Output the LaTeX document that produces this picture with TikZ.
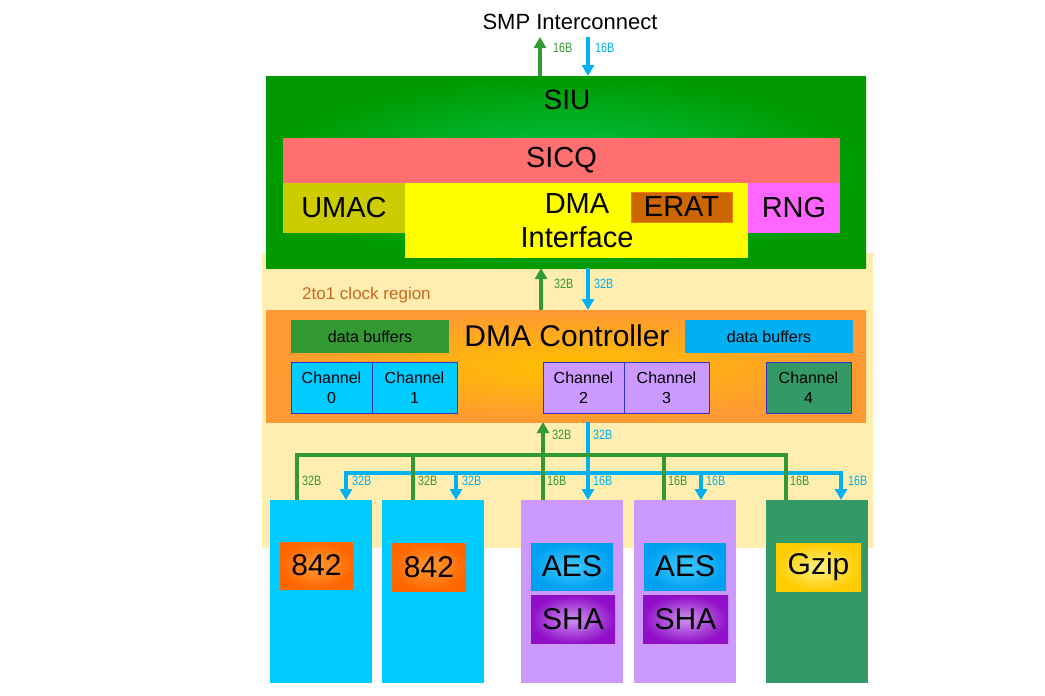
\documentclass[tikz,border=0pt]{standalone}
\usepackage{fontspec}
\setmainfont{Liberation Sans}
\newfontfamily\lblfont[FakeStretch=0.8]{Liberation Sans}
\usetikzlibrary{arrows.meta}
\definecolor{siuO}{HTML}{009A00}
\definecolor{siuI}{HTML}{00C850}
\definecolor{sicq}{HTML}{FF6F6F}
\definecolor{umac}{HTML}{CCCC00}
\definecolor{dmai}{HTML}{FFFF00}
\definecolor{erat}{HTML}{CC6600}
\definecolor{rng}{HTML}{FF66FF}
\definecolor{clk}{HTML}{FFEEB0}
\definecolor{clktxt}{HTML}{CC6622}
\definecolor{dmacO}{HTML}{FF9933}
\definecolor{dmacI}{HTML}{FFC000}
\definecolor{gbuf}{HTML}{339933}
\definecolor{bbuf}{HTML}{00B0F0}
\definecolor{cyanb}{HTML}{00CCFF}
\definecolor{lav}{HTML}{CC99FF}
\definecolor{dgreen}{HTML}{339966}
\definecolor{chborder}{HTML}{3333CC}
\definecolor{garr}{HTML}{339933}
\definecolor{barr}{HTML}{00B0F0}
\definecolor{oO}{HTML}{FF6600}
\definecolor{oI}{HTML}{FF9A30}
\definecolor{aO}{HTML}{00A0F0}
\definecolor{aI}{HTML}{40C8FF}
\definecolor{sO}{HTML}{9010C8}
\definecolor{sI}{HTML}{D090F0}
\definecolor{gzO}{HTML}{FFCC00}
\definecolor{gzI}{HTML}{FFF080}
\tikzset{
  box/.style={rectangle, inner sep=0pt, outer sep=0pt, draw=none},
  bigtxt/.style={font=\fontsize{29}{34}\selectfont, inner sep=0pt},
  chan/.style={box, draw=chborder, line width=0.8pt, minimum height=51pt, align=center, font=\fontsize{16}{20}\selectfont},
  buf/.style={box, minimum height=33pt, font=\fontsize{16}{20}\selectfont},
  blk/.style={box, minimum width=102pt, minimum height=183pt},
  inner/.style={box, minimum height=47pt, font=\fontsize{30}{34}\selectfont},
  garrow/.style={draw=garr, line width=4pt, -{Triangle[width=12pt,length=11pt]}},
  barrow/.style={draw=barr, line width=4pt, -{Triangle[width=12pt,length=11pt]}},
  gline/.style={draw=garr, line width=3.6pt, line join=miter},
  bline/.style={draw=barr, line width=3.6pt, line cap=rect},
  glbl/.style={text=garr, font=\lblfont\fontsize{13.5}{16}\selectfont, inner sep=0pt, anchor=west},
  blbl/.style={text=barr, font=\lblfont\fontsize{13.5}{16}\selectfont, inner sep=0pt, anchor=west},
}
\begin{document}
\begin{tikzpicture}[x=1pt,y=-1pt]
\useasboundingbox (0,0) rectangle (1045,696);
% clock region
\node[box, fill=clk, minimum width=611pt, minimum height=295pt] (clk) at (567.5,400.5) {};
\node[anchor=west, inner sep=0pt, text=clktxt, font=\fontsize{17}{20}\selectfont] (clklbl) at (302,295) {2to1 clock region};
% SIU
\node[box, inner color=siuI, outer color=siuO, minimum width=600pt, minimum height=192pt] (siu) at (566,172) {};
\node[font=\fontsize{28}{32}\selectfont, inner sep=0pt] (siulbl) at (567,100) {SIU};
\node[box, fill=sicq, minimum width=557pt, minimum height=45pt, bigtxt] (sicq) at (561.5,160.5) {SICQ};
\node[box, fill=umac, minimum width=122pt, minimum height=50pt, bigtxt] (umac) at (344,208) {UMAC};
\node[box, fill=dmai, minimum width=343pt, minimum height=75pt] (dmai) at (576.5,220.5) {};
\node[bigtxt, align=center] (dmailbl) at (577,221) {DMA\\Interface};
\node[box, fill=erat, draw=orange!80!erat, line width=0.6pt, minimum width=101pt, minimum height=30pt, bigtxt] (erat) at (681.5,207) {ERAT};
\node[box, fill=rng, minimum width=92pt, minimum height=50pt, bigtxt] (rng) at (794,208) {RNG};
% DMA controller
\node[box, inner color=dmacI, outer color=dmacO, minimum width=600pt, minimum height=112pt] (dmac) at (566,366) {};
\node[font=\fontsize{30}{34}\selectfont, inner sep=0pt] (dmaclbl) at (567,336) {DMA Controller};
\node[buf, fill=gbuf, minimum width=158pt] (bufg) at (370,336.5) {data buffers};
\node[buf, fill=bbuf, minimum width=168pt] (bufb) at (769,336.5) {data buffers};
\node[chan, fill=cyanb, minimum width=81pt] (ch0) at (331.5,387.5) {Channel\\0};
\node[chan, fill=cyanb, minimum width=85pt] (ch1) at (414.5,387.5) {Channel\\1};
\node[chan, fill=lav, minimum width=81pt] (ch2) at (583.5,387.5) {Channel\\2};
\node[chan, fill=lav, minimum width=85pt] (ch3) at (666.5,387.5) {Channel\\3};
\node[chan, fill=dgreen, minimum width=85pt] (ch4) at (808.5,387.5) {Channel\\4};
% bottom blocks
\node[blk, fill=cyanb] (b1) at (321,591.5) {};
\node[blk, fill=cyanb] (b2) at (433,591.5) {};
\node[blk, fill=lav] (b3) at (572,591.5) {};
\node[blk, fill=lav] (b4) at (684.5,591.5) {};
\node[blk, fill=dgreen] (b5) at (816.5,591.5) {};
\node[inner, inner color=oI, outer color=oO, minimum width=73pt] (c842a) at (316.5,565.5) {842};
\node[inner, inner color=oI, outer color=oO, minimum width=74pt, minimum height=48pt] (c842b) at (429,567) {842};
\node[inner, inner color=aI, outer color=aO, minimum width=82pt] (aes1) at (572,566.5) {AES};
\node[inner, inner color=sI, outer color=sO, minimum width=84pt, minimum height=48pt] (sha1) at (573,619.5) {SHA};
\node[inner, inner color=aI, outer color=aO, minimum width=82pt] (aes2) at (685,566.5) {AES};
\node[inner, inner color=sI, outer color=sO, minimum width=85pt, minimum height=48pt] (sha2) at (685.5,619.5) {SHA};
\node[inner, inner color=gzI, outer color=gzO, minimum width=85pt, minimum height=48pt] (gzip) at (818.5,567) {Gzip};
% top
\node[font=\fontsize{22}{26}\selectfont, inner sep=0pt] (smp) at (570,22) {SMP Interconnect};
\coordinate (smpG) at (540,37);
\coordinate (smpB) at (588,37);
\draw[garrow] (siu.north -| smpG) -- (smpG);
\draw[barrow] (smpB) -- (siu.north -| smpB);
\node[glbl] (l1) at (553,48) {16B};
\node[blbl] (l2) at (595,48) {16B};
% SIU <-> DMA controller
\coordinate (xg1) at (541,0);
\coordinate (xb1) at (588,0);
\draw[garrow] (dmac.north -| xg1) -- (siu.south -| xg1);
\draw[barrow] (siu.south -| xb1) -- (dmac.north -| xb1);
\node[glbl] (l3) at (554,284) {32B};
\node[blbl] (l4) at (594,284) {32B};
% buses
\coordinate (gx1) at (297,455);
\coordinate (gx2) at (413,455);
\coordinate (gx3) at (543,455);
\coordinate (gx4) at (664,455);
\coordinate (gx5) at (786,455);
\coordinate (bx1) at (346,473);
\coordinate (bx2) at (456,473);
\coordinate (bx3) at (588,473);
\coordinate (bx4) at (701,473);
\coordinate (bx5) at (841,473);
\draw[bline] (bx1) -- (bx5);
\draw[barrow] (bx1) -- (b1.north -| bx1);
\draw[barrow] (bx2) -- (b2.north -| bx2);
\draw[barrow] (bx4) -- (b4.north -| bx4);
\draw[barrow] (bx5) -- (b5.north -| bx5);
\draw[barrow] (dmac.south -| bx3) -- (b3.north -| bx3);
\draw[gline] (b1.north -| gx1) -- (gx1) -- (gx5) -- (b5.north -| gx5);
\draw[gline] (b2.north -| gx2) -- (gx2);
\draw[gline] (b4.north -| gx4) -- (gx4);
\draw[garrow] (b3.north -| gx3) -- (dmac.south -| gx3);
\node[glbl] (l5) at (552,435) {32B};
\node[blbl] (l6) at (593,435) {32B};
\node[glbl] (l7) at (302,481) {32B};
\node[blbl] (l8) at (352,481) {32B};
\node[glbl] (l9) at (418,481) {32B};
\node[blbl] (l10) at (462,481) {32B};
\node[glbl] (l11) at (547,481) {16B};
\node[blbl] (l12) at (593,481) {16B};
\node[glbl] (l13) at (668,481) {16B};
\node[blbl] (l14) at (706,481) {16B};
\node[glbl] (l15) at (790,481) {16B};
\node[blbl] (l16) at (848,481) {16B};
\end{tikzpicture}
\end{document}
